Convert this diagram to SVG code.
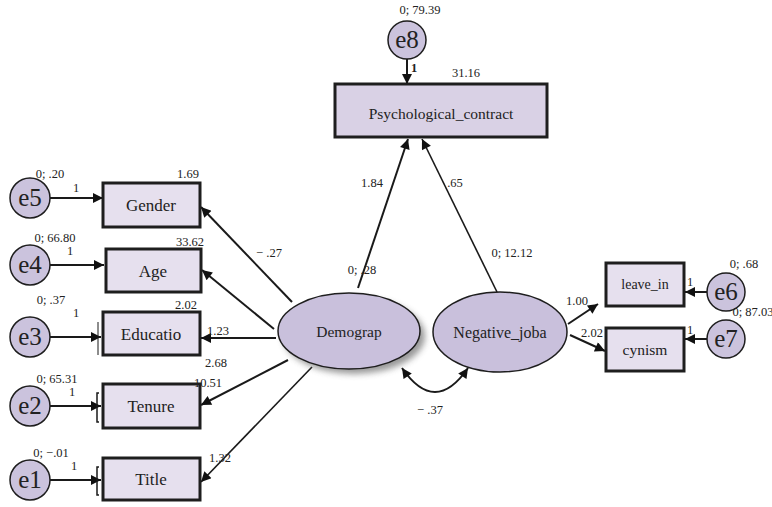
<svg xmlns="http://www.w3.org/2000/svg" width="772" height="507" viewBox="0 0 772 507">
<style>
.box{fill:#e6e0ee;stroke:#1e1e1e;stroke-width:3}
.pbox{fill:#d9d1e5;stroke:#1e1e1e;stroke-width:3}
.lat{fill:#c9c0dc;stroke:#1e1e1e;stroke-width:1.5}
.err{fill:#cbc3dd;stroke:#1e1e1e;stroke-width:1.5}
.t{font-family:"Liberation Serif","Times New Roman",serif;fill:#222;text-anchor:middle}
.nl{font-size:17px}
.ml{font-size:15.5px}
.el{font-size:25px}
.sl{font-size:12.5px}
.c line,.c path{stroke:#1a1a1a;stroke-width:2;fill:none}
.c .thin{stroke-width:1.6}
</style>
<defs>
<marker id="ah" viewBox="0 0 10 10" refX="10" refY="5" markerWidth="14" markerHeight="10" orient="auto-start-reverse" markerUnits="userSpaceOnUse"><path d="M0,0 L10,5 L0,10 z" fill="#111"/></marker>
<filter id="sh" x="-30%" y="-30%" width="160%" height="160%"><feGaussianBlur stdDeviation="3"/></filter>
</defs>

<g id="connectors" class="c">
<line x1="407" y1="59" x2="407" y2="84" marker-end="url(#ah)"/>
<line x1="50" y1="198" x2="103" y2="198" marker-end="url(#ah)"/>
<line x1="50" y1="265" x2="104" y2="265" marker-end="url(#ah)"/>
<line x1="50" y1="337" x2="101" y2="337" marker-end="url(#ah)"/>
<line x1="50" y1="406" x2="101" y2="406" marker-end="url(#ah)"/>
<line x1="50" y1="480" x2="101" y2="480" marker-end="url(#ah)"/>
<line x1="292" y1="302" x2="201" y2="207" marker-end="url(#ah)"/>
<line x1="274" y1="329" x2="202" y2="270" marker-end="url(#ah)"/>
<line x1="276" y1="338" x2="201" y2="338" marker-end="url(#ah)"/>
<line x1="288" y1="360" x2="201" y2="405" marker-end="url(#ah)"/>
<line x1="312" y1="367" x2="201" y2="482" marker-end="url(#ah)" class="thin"/>
<line x1="358" y1="288" x2="408" y2="139" marker-end="url(#ah)"/>
<line x1="497" y1="292" x2="422" y2="139" marker-end="url(#ah)" class="thin"/>
<line x1="568" y1="324" x2="598" y2="304" marker-end="url(#ah)"/>
<line x1="570" y1="335" x2="605" y2="351" marker-end="url(#ah)"/>
<line x1="707" y1="292" x2="685" y2="292" marker-end="url(#ah)"/>
<line x1="707" y1="339" x2="685" y2="339" marker-end="url(#ah)"/>
<path d="M402 368 Q435 416 468 368" marker-start="url(#ah)" marker-end="url(#ah)"/>
<line x1="98" y1="322" x2="98" y2="355" style="stroke-width:1"/>
<path d="M99 393 L97 393 L97 422 L99 422" style="stroke-width:1.5"/>
<path d="M99 467 L97 467 L97 495 L99 495" style="stroke-width:1.5"/>
</g>

<g id="e8"><circle class="err" cx="407" cy="40" r="19"/><text class="t el" x="407" y="48">e8</text><text class="t sl" x="420" y="14">0; 79.39</text><text class="t sl" x="414" y="72" style="font-weight:bold">1</text></g>
<g id="Psychological_contract"><rect class="pbox" x="335" y="84" width="212" height="53"/><text class="t ml" x="441" y="119">Psychological_contract</text><text class="t sl" x="466" y="77">31.16</text></g>

<g id="Gender"><rect class="box" x="103" y="183" width="97" height="44"/><text class="t nl" x="151" y="211">Gender</text><text class="t sl" x="188" y="178">1.69</text></g>
<g id="Age"><rect class="box" x="106" y="249" width="95" height="43"/><text class="t nl" x="153" y="277">Age</text><text class="t sl" x="190" y="246">33.62</text></g>
<g id="Educatio"><rect class="box" x="103" y="312" width="97" height="43"/><text class="t nl" x="151" y="340">Educatio</text><text class="t sl" x="186" y="309">2.02</text></g>
<g id="Tenure"><rect class="box" x="103" y="384" width="97" height="44"/><text class="t nl" x="151" y="412">Tenure</text></g>
<g id="Title"><rect class="box" x="103" y="458" width="97" height="42"/><text class="t nl" x="151" y="485">Title</text></g>

<g id="e5"><circle class="err" cx="30" cy="198" r="20"/><text class="t el" x="30" y="206">e5</text><text class="t sl" x="50" y="178">0; .20</text><text class="t sl" x="76" y="192">1</text></g>
<g id="e4"><circle class="err" cx="30" cy="265" r="20"/><text class="t el" x="30" y="273">e4</text><text class="t sl" x="55" y="242">0; 66.80</text><text class="t sl" x="70" y="255">1</text></g>
<g id="e3"><circle class="err" cx="30" cy="337" r="20"/><text class="t el" x="30" y="345">e3</text><text class="t sl" x="51" y="304">0; .37</text><text class="t sl" x="76" y="317">1</text></g>
<g id="e2"><circle class="err" cx="30" cy="406" r="20"/><text class="t el" x="30" y="414">e2</text><text class="t sl" x="57" y="383">0; 65.31</text><text class="t sl" x="72" y="396">1</text></g>
<g id="e1"><circle class="err" cx="30" cy="480" r="20"/><text class="t el" x="30" y="488">e1</text><text class="t sl" x="51" y="457">0; −.01</text><text class="t sl" x="74" y="470">1</text></g>

<g id="Demograp"><ellipse cx="354" cy="336" rx="71" ry="38" fill="#555" opacity="0.6" filter="url(#sh)"/><ellipse class="lat" cx="349" cy="331" rx="71" ry="38"/><text class="t ml" x="349" y="337">Demograp</text><text class="t sl" x="362" y="274">0; .28</text></g>
<g id="Negative_joba"><ellipse class="lat" cx="500" cy="332" rx="67" ry="40"/><text class="t" x="500" y="338" style="font-size:16px">Negative_joba</text><text class="t sl" x="512" y="257">0; 12.12</text></g>

<g id="leave_in"><rect class="box" x="606" y="263" width="78" height="43"/><text class="t" x="645" y="289" style="font-size:14px">leave_in</text></g>
<g id="cynism"><rect class="box" x="606" y="328" width="78" height="43"/><text class="t ml" x="645" y="355">cynism</text></g>
<g id="e6"><circle class="err" cx="726" cy="292" r="19"/><text class="t el" x="726" y="300">e6</text><text class="t sl" x="744" y="268">0; .68</text><text class="t sl" x="690" y="286">1</text></g>
<g id="e7"><circle class="err" cx="726" cy="339" r="19"/><text class="t el" x="726" y="347">e7</text><text class="t sl" x="753" y="316">0; 87.03</text><text class="t sl" x="690" y="334">1</text></g>

<g id="labels">
<text class="t sl" x="372" y="187">1.84</text>
<text class="t sl" x="455" y="187">.65</text>
<text class="t sl" x="269" y="257">− .27</text>
<text class="t sl" x="218" y="335">1.23</text>
<text class="t sl" x="216" y="367">2.68</text>
<text class="t sl" x="208" y="387">10.51</text>
<text class="t sl" x="220" y="462">1.32</text>
<text class="t sl" x="430" y="414">− .37</text>
<text class="t sl" x="577" y="305">1.00</text>
<text class="t sl" x="592" y="337">2.02</text>
</g>
</svg>
